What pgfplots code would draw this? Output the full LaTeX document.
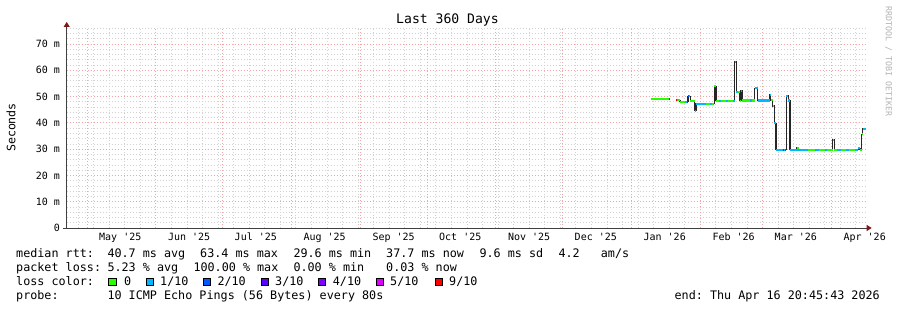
\documentclass[border=0pt]{standalone}
\usepackage{fontspec}
\setmonofont{DejaVu Sans Mono}
\usepackage{pgfplots}
\pgfplotsset{compat=1.18}
\usepackage{pgfplotstable}
\usetikzlibrary{arrows.meta}
\definecolor{l0}{HTML}{26FF00}
\definecolor{l1}{HTML}{00B8FF}
\definecolor{l2}{HTML}{0059FF}
\definecolor{l3}{HTML}{5E00FF}
\definecolor{l4}{HTML}{7E00FF}
\definecolor{l5}{HTML}{DD00FF}
\definecolor{l9}{HTML}{FF0000}
\definecolor{arrowred}{HTML}{801818}
\definecolor{mgrid}{HTML}{F4A4A4}
\definecolor{ngrid}{HTML}{D2D2D2}
\newcommand\lf{\fontsize{11.75}{14}\selectfont\ttfamily}
\newcommand\tf{\fontsize{10}{12}\selectfont\ttfamily}

% median rtt (days since start, ms)
\pgfplotstableread{
t v
262.8 49.1
271.4 49.1
271.5 nan
274.1 48.6
275.9 48.0
279.5 50.2
280.6 48.4
282.6 44.6
283.1 47.2
291.4 54.0
292.1 48.4
300.6 63.3
301.3 51.9
302.7 48.4
303.3 52.2
303.8 48.5
309.6 53.1
310.8 48.5
316.2 50.6
316.8 48.7
317.7 46.4
318.4 39.8
319.1 29.7
323.8 50.3
324.7 48.5
325.4 29.7
328.5 30.5
329.4 29.7
344.7 33.5
345.4 29.7
356.2 30.4
356.9 29.7
357.6 35.6
358.2 37.7
359.6 37.7
}\median

\begin{document}
\begin{tikzpicture}
\path[use as bounding box] (0,0) rectangle (897pt,310pt);
\begin{axis}[
  at={(66.7pt,82pt)}, anchor=south west,
  scale only axis, width=800pt, height=200pt,
  xmin=-0.1, xmax=359.9, ymin=0, ymax=76.1,
  axis x line=bottom, axis y line=left,
  axis line style={black!75, line width=0.9pt},
  x axis line style={-{Triangle[length=5pt,width=6pt,color=arrowred]}, shorten <=-4pt, shorten >=-5pt},
  y axis line style={-{Triangle[length=5pt,width=6pt,color=arrowred]}, shorten >=-6pt},
  major tick length=0pt, minor tick length=0pt,
  ytick={0,10,20,30,40,50,60,70},
  yticklabels={0,10 m,20 m,30 m,40 m,50 m,60 m,70 m},
  minor ytick={2,4,6,8,12,14,16,18,22,24,26,28,32,34,36,38,42,44,46,48,52,54,56,58,62,64,66,68,72,74,76},
  xtick={24,55,85,116,147,177,208,238,269,300,328,359},
  xticklabels={May '25,Jun '25,Jul '25,Aug '25,Sep '25,Oct '25,Nov '25,Dec '25,Jan '26,Feb '26,Mar '26,Apr '26},
  minor xtick={5,12,...,356},
  extra x ticks={9,40,70,101,132,162,193,223,254,285,313,344},
  extra x tick labels={},
  extra x tick style={xmajorgrids=true},
  xmajorgrids=false, ymajorgrids=true, xminorgrids=true, yminorgrids=true,
  major grid style={mgrid, line width=0.8pt, dash pattern=on 1pt off 2pt},
  minor grid style={ngrid, line width=0.7pt, dash pattern=on 1pt off 2pt},
  yticklabel style={font=\tf, inner sep=0pt, anchor=east, xshift=-6.5pt},
  xticklabel style={font=\tf, inner sep=0pt, anchor=north, yshift=-5pt},
  unbounded coords=jump,
  clip=false,
]
\addplot[const plot, black!85, line width=1.1pt] table[x=t,y=v] {\median};
\addplot[jump mark left, l0, line width=2.1pt] table[x=t,y=v] {\median};
\addplot[l1, line width=2.1pt] coordinates {
(274.1,48.6)(275.0,48.6)(275.0,nan)
(278.0,48.0)(279.5,48.0)(279.5,nan)
(279.5,50.2)(280.6,50.2)(280.6,nan)
(282.6,44.6)(283.1,44.6)(283.1,nan)
(283.1,47.2)(287.8,47.2)(287.8,nan)
(289.5,47.2)(290.3,47.2)(290.3,nan)
(293.6,48.4)(294.3,48.4)(294.3,nan)
(296.8,48.4)(297.5,48.4)(297.5,nan)
(299.8,48.4)(300.6,48.4)(300.6,nan)
(300.6,63.3)(301.3,63.3)(301.3,nan)
(301.3,51.9)(301.8,51.9)(301.8,nan)
(303.3,52.2)(303.8,52.2)(303.8,nan)
(307.5,48.5)(308.2,48.5)(308.2,nan)
(309.6,53.1)(310.8,53.1)(310.8,nan)
(310.8,48.5)(316.2,48.5)(316.2,nan)
(316.2,50.6)(316.8,50.6)(316.8,nan)
(318.4,39.8)(319.1,39.8)(319.1,nan)
(319.1,29.7)(323.8,29.7)(323.8,nan)
(323.8,50.3)(324.7,50.3)(324.7,nan)
(324.7,48.5)(325.4,48.5)(325.4,nan)
(325.4,29.7)(333.5,29.7)(333.5,nan)
(336.5,29.7)(338.5,29.7)(338.5,nan)
(341.0,29.7)(342.0,29.7)(342.0,nan)
(346.5,29.7)(348.5,29.7)(348.5,nan)
(350.5,29.7)(352.0,29.7)(352.0,nan)
(354.5,29.7)(356.2,29.7)(356.2,nan)
(356.2,30.4)(356.9,30.4)(356.9,nan)
(358.2,37.7)(359.6,37.7)
};
\addplot[l9, line width=2.1pt] coordinates {
(271.0,49.1)(271.4,49.1)(271.4,nan)
(274.1,48.6)(274.5,48.6)(274.5,nan)
(322.2,29.7)(322.6,29.7)(322.6,nan)
(323.3,29.7)(323.6,29.7)
};
\addplot[l4, line width=2.1pt] coordinates {(279.0,48.0)(279.4,48.0)};
\addplot[l2, line width=2.1pt] coordinates {(279.6,50.2)(280.0,50.2)};
\end{axis}

% title and labels
\node[font=\fontsize{13.1}{15}\selectfont\ttfamily, anchor=base] at (447.5pt,286pt) {Last 360 Days};
\node[font=\fontsize{11.6}{14}\selectfont\ttfamily, rotate=90] at (11pt,182.5pt) {Seconds};
\node[font=\fontsize{8.3}{10}\selectfont\ttfamily, text=black!30, rotate=-90, anchor=west] at (888.5pt,307pt) {RRDTOOL / TOBI OETIKER};

% legend
\node[font=\lf, anchor=base west, inner sep=0pt] at (16pt,52.3pt) {median rtt:};
\node[font=\lf, anchor=base west, inner sep=0pt] at (107.3pt,52.3pt) {40.7 ms avg};
\node[font=\lf, anchor=base west, inner sep=0pt] at (200pt,52.3pt) {63.4 ms max};
\node[font=\lf, anchor=base west, inner sep=0pt] at (293.3pt,52.3pt) {29.6 ms min};
\node[font=\lf, anchor=base west, inner sep=0pt] at (386pt,52.3pt) {37.7 ms now};
\node[font=\lf, anchor=base west, inner sep=0pt] at (479.3pt,52.3pt) {9.6 ms sd};
\node[font=\lf, anchor=base west, inner sep=0pt] at (558.3pt,52.3pt) {4.2};
\node[font=\lf, anchor=base west, inner sep=0pt] at (600.7pt,52.3pt) {am/s};

\node[font=\lf, anchor=base west, inner sep=0pt] at (16pt,38.3pt) {packet loss:};
\node[font=\lf, anchor=base west, inner sep=0pt] at (107.3pt,38.3pt) {5.23 \% avg};
\node[font=\lf, anchor=base west, inner sep=0pt] at (193.3pt,38.3pt) {100.00 \% max};
\node[font=\lf, anchor=base west, inner sep=0pt] at (293.3pt,38.3pt) {0.00 \% min};
\node[font=\lf, anchor=base west, inner sep=0pt] at (386pt,38.3pt) {0.03 \% now};

\node[font=\lf, anchor=base west, inner sep=0pt] at (16pt,24.3pt) {loss color:};
\draw[black, line width=0.6pt, fill=l0] (108.6pt,24.3pt) rectangle ++(7.4pt,7.4pt);
\node[font=\lf, anchor=base west, inner sep=0pt] at (124pt,24.3pt) {0};
\draw[black, line width=0.6pt, fill=l1] (146pt,24.3pt) rectangle ++(7.4pt,7.4pt);
\node[font=\lf, anchor=base west, inner sep=0pt] at (160pt,24.3pt) {1/10};
\draw[black, line width=0.6pt, fill=l2] (203.3pt,24.3pt) rectangle ++(7.4pt,7.4pt);
\node[font=\lf, anchor=base west, inner sep=0pt] at (217.3pt,24.3pt) {2/10};
\draw[black, line width=0.6pt, fill=l3] (261pt,24.3pt) rectangle ++(7.4pt,7.4pt);
\node[font=\lf, anchor=base west, inner sep=0pt] at (275pt,24.3pt) {3/10};
\draw[black, line width=0.6pt, fill=l4] (318.3pt,24.3pt) rectangle ++(7.4pt,7.4pt);
\node[font=\lf, anchor=base west, inner sep=0pt] at (332.7pt,24.3pt) {4/10};
\draw[black, line width=0.6pt, fill=l5] (376pt,24.3pt) rectangle ++(7.4pt,7.4pt);
\node[font=\lf, anchor=base west, inner sep=0pt] at (390pt,24.3pt) {5/10};
\draw[black, line width=0.6pt, fill=l9] (435.3pt,24.3pt) rectangle ++(7.4pt,7.4pt);
\node[font=\lf, anchor=base west, inner sep=0pt] at (449pt,24.3pt) {9/10};

\node[font=\lf, anchor=base west, inner sep=0pt] at (16pt,10.3pt) {probe:};
\node[font=\lf, anchor=base west, inner sep=0pt] at (107.3pt,10.3pt) {10 ICMP Echo Pings (56 Bytes) every 80s};
\node[font=\lf, anchor=base east, inner sep=0pt] at (880pt,10.3pt) {end: Thu Apr 16 20:45:43 2026};
\end{tikzpicture}
\end{document}
